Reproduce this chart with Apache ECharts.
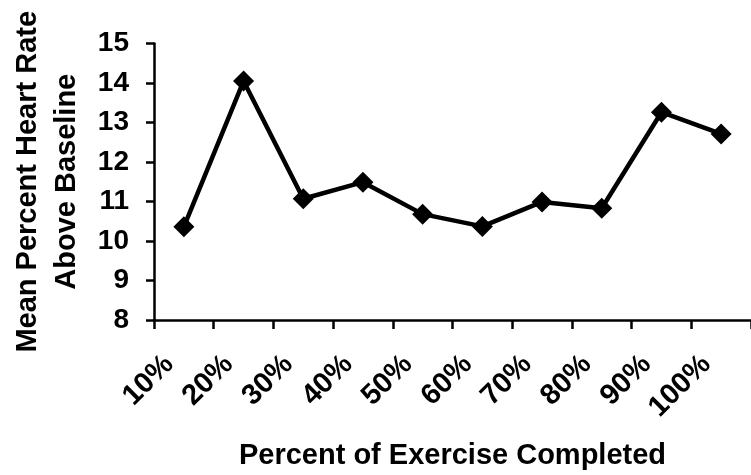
<!DOCTYPE html>
<html lang="en">
<head>
    <meta http-equiv="Content-Type" content="text/html; charset=utf-8"/>
    <title>Heart rate above baseline</title>
    <script src="https://cdn.jsdelivr.net/npm/echarts@6/dist/echarts.min.js"></script>
    <style type="text/css">
        html, body {
            height: 100%;
            margin: 0;
            background: #fff;
        }
        #main_1 {
            width: 751px;
            height: 475px;
        }
    </style>
</head>
<body>
<div id="main_1"></div>
<script>
    // categories along x
    var percentDone = ['10%', '20%', '30%', '40%', '50%', '60%', '70%', '80%', '90%', '100%'];
    // mean % heart rate above baseline
    var heartRate = [10.36, 14.05, 11.07, 11.49, 10.68, 10.37, 10.99, 10.83, 13.26, 12.71];
    var yTicks = {min: 8, max: 15, step: 1};

    var fontFam = '"Liberation Sans", Arial, sans-serif';

    var myChart = echarts.init(document.getElementById('main_1'));

    var option = {
        backgroundColor: '#ffffff',
        animation: false,
        textStyle: {fontFamily: fontFam, fontWeight: 'bold', color: '#000'},
        grid: {
            left: 150,
            top: 43.5,
            width: 608,
            height: 276.5
        },
        xAxis: {
            type: 'category',
            data: percentDone,
            name: 'Percent of Exercise Completed',
            nameLocation: 'middle',
            nameGap: 121,
            nameTextStyle: {fontFamily: fontFam, fontWeight: 'bold', fontSize: 29, color: '#000'},
            axisLine: {lineStyle: {color: '#000', width: 2.5}},
            axisTick: {show: true, length: 9, lineStyle: {color: '#000', width: 2.5}},
            axisLabel: {
                interval: 0,
                rotate: 45,
                margin: 25,
                padding: [0, 21, 0, 0],
                fontFamily: fontFam,
                fontWeight: 'bold',
                fontSize: 29,
                color: '#000'
            },
            splitLine: {show: false}
        },
        yAxis: {
            type: 'value',
            min: yTicks.min,
            max: yTicks.max,
            interval: yTicks.step,
            name: 'Mean Percent Heart Rate\nAbove Baseline',
            nameLocation: 'middle',
            nameGap: 68,
            nameTextStyle: {fontFamily: fontFam, fontWeight: 'bold', fontSize: 29, lineHeight: 39, color: '#000'},
            axisLine: {show: true, lineStyle: {color: '#000', width: 2.5}},
            axisTick: {show: true, length: 8, lineStyle: {color: '#000', width: 2.5}},
            axisLabel: {
                margin: 25,
                fontFamily: fontFam,
                fontWeight: 'bold',
                fontSize: 28,
                color: '#000'
            },
            splitLine: {show: false}
        },
        series: [{
            type: 'line',
            data: heartRate,
            symbol: 'diamond',
            symbolSize: 21,
            lineStyle: {color: '#000', width: 4.5},
            itemStyle: {color: '#000'}
        }]
    };

    myChart.setOption(option);
</script>
</body>
</html>
